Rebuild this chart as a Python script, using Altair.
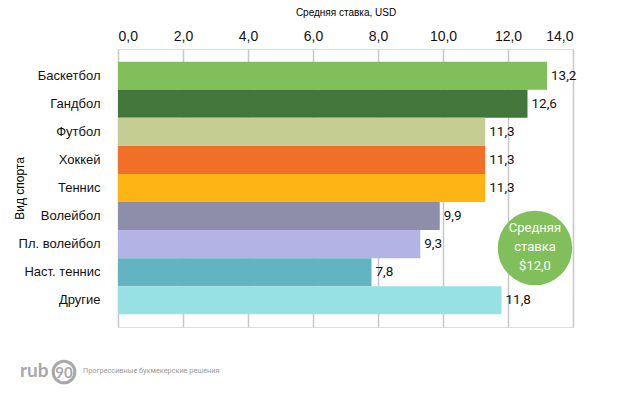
import altair as alt
import pandas as pd

sports = ["Баскетбол", "Гандбол", "Футбол", "Хоккей", "Теннис", "Волейбол",
          "Пл. волейбол", "Наст. теннис", "Другие"]
values = [13.2, 12.6, 11.3, 11.3, 11.3, 9.9, 9.3, 7.8, 11.8]
colors = ["#80BF5A", "#42763A", "#C5CD92", "#F07028", "#FDB515", "#8E8EAA",
          "#B3B3E6", "#62B4C0", "#97E0E3"]
tick_values = [0, 2, 4, 6, 8, 10, 12, 14]
avg_text = "Средняя\nставка\n$12,0"
avg_x = 12.83
logo_main = "rub"
logo_num = "90"
logo_tag = "Прогрессивные букмекерские решения"

FONT = "Roboto, sans-serif"

df = pd.DataFrame({"sport": sports, "value": values})

x_enc = alt.X("value:Q",
              scale=alt.Scale(domain=[0, 14], nice=False),
              axis=alt.Axis(orient="top", values=tick_values,
                            labelExpr="replace(format(datum.value, '.1f'), '.', ',')",
                            title="Средняя ставка, USD", titleFontSize=10,
                            titleFontWeight="normal", titlePadding=12,
                            labelFontSize=14, labelPadding=6, labelColor="#111",
                            grid=True, gridColor="#c8c8c8", gridWidth=1.5,
                            domain=False, ticks=False))
y_enc = alt.Y("sport:N", sort=sports,
              scale=alt.Scale(paddingInner=0, paddingOuter=0.45),
              axis=alt.Axis(title="Вид спорта", titleFontSize=12,
                            titleFontWeight="normal", titleX=-92, titleY=139,
                            titleAngle=-90, titleAlign="center",
                            labelFontSize=13, labelPadding=18, labelColor="#111",
                            domain=False, ticks=False, grid=False))

base = alt.Chart(df)
bars = base.mark_bar().encode(
    x=x_enc, y=y_enc,
    color=alt.Color("sport:N", scale=alt.Scale(domain=sports, range=colors), legend=None)
)
labels = base.transform_calculate(
    lab="replace(format(datum.value, '.1f'), '.', ',')"
).mark_text(align="left", dx=4, fontSize=13.5, font=FONT, color="#111").encode(
    x="value:Q", y=alt.Y("sport:N", sort=sports), text="lab:N"
)

circ_df = pd.DataFrame({"x": [avg_x], "t": [avg_text]})
circle = alt.Chart(circ_df).mark_point(shape="circle", filled=True, size=5540,
                                       color="#80BF5A", opacity=1).encode(
    x="x:Q", y=alt.value(199)
)
circle_txt = alt.Chart(circ_df).mark_text(color="white", fontSize=13, font=FONT,
                                          lineBreak="\n", lineHeight=19,
                                          baseline="middle", dy=-19).encode(
    x="x:Q", y=alt.value(198), text="t:N"
)

logo_df = pd.DataFrame({"a": [logo_main], "b": [logo_num], "c": [logo_tag]})
logo1 = alt.Chart(logo_df).mark_text(align="left", baseline="middle", fontSize=19,
                                     fontWeight="bold", color="#a8a8a8",
                                     font="Lato, sans-serif").encode(
    x=alt.value(-98), y=alt.value(322), text="a:N")
logo_ring = alt.Chart(logo_df).mark_point(shape="circle", filled=False, size=470,
                                          color="#a8a8a8", strokeWidth=3,
                                          opacity=1).encode(
    x=alt.value(-54), y=alt.value(323))
logo2 = alt.Chart(logo_df).mark_text(align="center", baseline="middle", fontSize=15,
                                     fontWeight="bold", color="#a8a8a8",
                                     font="Lato, sans-serif").encode(
    x=alt.value(-54), y=alt.value(324), text="b:N")
logo3 = alt.Chart(logo_df).mark_text(align="left", baseline="middle", fontSize=7.3,
                                     color="#999", font=FONT).encode(
    x=alt.value(-35), y=alt.value(322), text="c:N")

chart = alt.layer(bars, labels, circle, circle_txt, logo1, logo_ring, logo2, logo3).properties(
    width=455, height=278,
    autosize=alt.AutoSizeParams(type="none"),
    padding={"left": 110, "top": 41, "right": 37, "bottom": 59}
).configure_view(stroke=None).configure_axis(
    labelFont=FONT, titleFont=FONT
).configure(background="white")

chart.save("out.html", embed_options={"renderer": "svg", "actions": False})
